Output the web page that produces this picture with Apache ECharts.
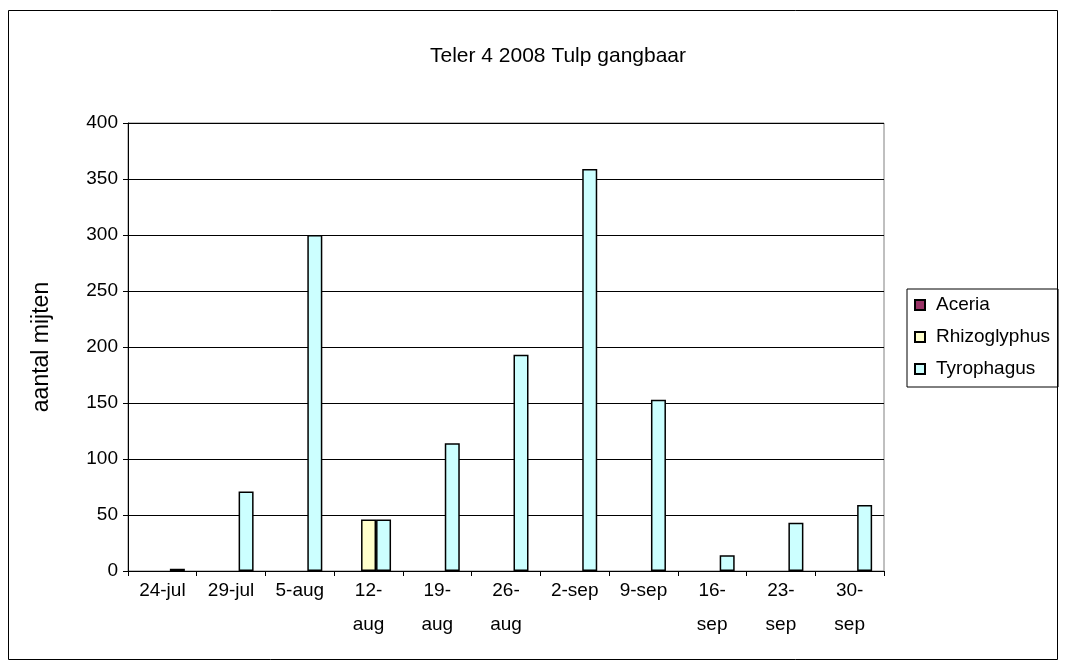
<!DOCTYPE html>
<html>
<head>
<meta charset="utf-8">
<script src="https://cdn.jsdelivr.net/npm/echarts@6/dist/echarts.min.js"></script>
<style>
html,body{margin:0;padding:0;background:#fff;}
#chart{width:1066px;height:668px;}
</style>
</head>
<body>
<div id="chart"></div>
<script>
const categories = ["24-jul","29-jul","5-aug","12-\naug","19-\naug","26-\naug","2-sep","9-sep","16-\nsep","23-\nsep","30-\nsep"];
const aceria = [0,0,0,0,0,0,0,0,0,0,0];
const rhizoglyphus = [0,0,0,46,0,0,0,0,0,0,0];
const tyrophagus = [2,71,300,46,114,193,359,153,14,43,59];
const yTicks = [0,50,100,150,200,250,300,350,400];

const chart = echarts.init(document.getElementById('chart'), null, {renderer:'canvas'});
const font = 'Liberation Sans, Arial, sans-serif';
function mk(name, data, color){
  return {name:name,type:'bar',data:data.map(v => v === 0 ? null : v),barWidth:15,barGap:'0%',
    itemStyle:{color:color,borderColor:'#000',borderWidth:1.5},
    emphasis:{disabled:true}};
}
chart.setOption({
  animation:false,
  textStyle:{fontFamily:font},
  title:{text:'Teler 4 2008 Tulp gangbaar',left:553,top:41,textAlign:'center',
    textStyle:{fontFamily:font,fontSize:21,fontWeight:'normal',color:'#000'}},
  graphic:[{type:'rect',shape:{x:8.5,y:10.5,width:1049,height:649},
    style:{fill:'none',stroke:'#000',lineWidth:1},silent:true,z:-1}],
  grid:{left:128,top:123,width:756,height:448,show:true,borderColor:'#808080',borderWidth:1,backgroundColor:'transparent'},
  legend:{orient:'vertical',left:907,top:289,
    padding:[6,8,8,7],itemGap:12,itemWidth:10,itemHeight:10,
    borderColor:'#000',borderWidth:1,
    textStyle:{fontFamily:font,fontSize:19,color:'#000',lineHeight:20,padding:[0,0,0,6]},
    data:[{name:'Aceria',icon:'rect'},{name:'Rhizoglyphus',icon:'rect'},{name:'Tyrophagus',icon:'rect'}]},
  xAxis:{type:'category',data:categories,
    axisLine:{lineStyle:{color:'#000',width:1}},
    axisTick:{show:true,length:5,lineStyle:{color:'#000'}},
    axisLabel:{interval:0,color:'#000',fontSize:19,fontFamily:font,lineHeight:34,margin:3}},
  yAxis:{type:'value',min:0,max:400,interval:50,
    name:'aantal mijten',nameLocation:'middle',nameGap:75,nameRotate:90,
    nameTextStyle:{fontFamily:font,fontSize:23,color:'#000'},
    axisLine:{show:true,lineStyle:{color:'#000',width:1}},
    axisTick:{show:true,length:5,lineStyle:{color:'#000'}},
    axisLabel:{color:'#000',fontSize:19,fontFamily:font,margin:10,
      formatter:function(v){return yTicks.indexOf(v)>=0?String(v):'';}},
    splitLine:{show:true,lineStyle:{color:'#000',width:1}}},
  series:[mk('Aceria',aceria,'#993366'),mk('Rhizoglyphus',rhizoglyphus,'#FFFFCC'),mk('Tyrophagus',tyrophagus,'#CCFFFF')]
});
</script>
</body>
</html>
